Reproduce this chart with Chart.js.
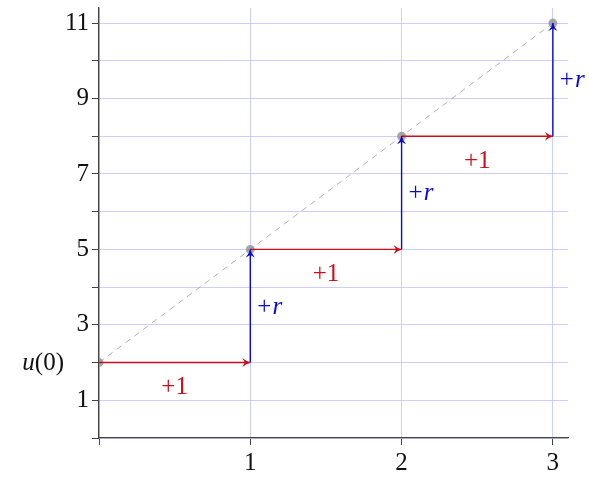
<!DOCTYPE html>
<html>
<head>
<meta charset="utf-8">
<script src="https://cdn.jsdelivr.net/npm/chart.js@4.4.1/dist/chart.umd.min.js"></script>
<style>
  body { margin: 0; background: #fff; }
</style>
</head>
<body>
<canvas id="steps-chart" width="589" height="477"></canvas>
<script>
var steps = [0, 1, 2, 3];
var values = [2, 5, 8, 11];
var labeledY = [1, 3, 5, 7, 9, 11];
var stepText = "+1";
var riseText = "r";
var startText = "u";

var red = "rgb(200, 16, 28)";
var blue = "rgb(10, 10, 205)";
var serif = "'Liberation Serif', 'DejaVu Serif', serif";
var fs = 25;

var datasets = [];
// dashed diagonal + grey dots
datasets.push({
  data: steps.map(function (s, i) { return { x: s, y: values[i] }; }),
  borderColor: "rgba(160,160,160,0.9)",
  borderWidth: 0.9,
  borderDash: [6, 5],
  pointRadius: 4.5,
  pointBackgroundColor: "rgba(150,150,150,0.85)",
  pointBorderWidth: 0,
  order: 3
});
for (var i = 0; i < steps.length - 1; i++) {
  datasets.push({
    data: [{ x: steps[i], y: values[i] }, { x: steps[i + 1], y: values[i] }],
    borderColor: red, borderWidth: 1.4, pointRadius: 0, order: 1
  });
  datasets.push({
    data: [{ x: steps[i + 1], y: values[i] }, { x: steps[i + 1], y: values[i + 1] }],
    borderColor: blue, borderWidth: 1.4, pointRadius: 0, order: 1
  });
}

function arrowHead(ctx, x, y, dx, dy, color) {
  var ang = Math.atan2(dy, dx);
  ctx.save();
  ctx.translate(x, y);
  ctx.rotate(ang);
  ctx.fillStyle = color;
  ctx.beginPath();
  ctx.moveTo(0.5, 0);
  ctx.quadraticCurveTo(-4, -1, -8, -4.5);
  ctx.lineTo(-5.5, 0);
  ctx.lineTo(-8, 4.5);
  ctx.quadraticCurveTo(-4, 1, 0.5, 0);
  ctx.fill();
  ctx.restore();
}

var decor = {
  id: "decor",
  afterDraw: function (chart) {
    var ctx = chart.ctx;
    var xs = chart.scales.x, ys = chart.scales.y;
    ctx.save();
    ctx.textBaseline = "middle";
    for (var i = 0; i < steps.length - 1; i++) {
      var x0 = xs.getPixelForValue(steps[i]);
      var x1 = xs.getPixelForValue(steps[i + 1]);
      var y0 = ys.getPixelForValue(values[i]);
      var y1 = ys.getPixelForValue(values[i + 1]);
      arrowHead(ctx, x1, y0, 1, 0, red);
      arrowHead(ctx, x1, y1, 0, -1, blue);
      // +1 label
      ctx.font = fs + "px " + serif;
      ctx.fillStyle = red;
      ctx.textAlign = "center";
      ctx.fillText(stepText, (x0 + x1) / 2, y0 + 25);
      // +r label
      ctx.fillStyle = blue;
      ctx.textAlign = "left";
      ctx.font = fs + "px " + serif;
      ctx.fillText("+", x1 + 7, (y0 + y1) / 2 + 1);
      var w = ctx.measureText("+").width;
      ctx.font = "italic " + fs + "px " + serif;
      ctx.fillText(riseText, x1 + 8 + w, (y0 + y1) / 2 + 1);
    }
    // u(0) label
    var yu = ys.getPixelForValue(values[0]);
    ctx.fillStyle = "#111";
    ctx.textAlign = "right";
    ctx.font = fs + "px " + serif;
    ctx.fillText("(0)", 64, yu + 1);
    var w0 = ctx.measureText("(0)").width;
    ctx.font = "italic " + fs + "px " + serif;
    ctx.fillText(startText, 64 - w0, yu + 1);
    ctx.restore();
  }
};

new Chart("steps-chart", {
  type: "line",
  data: { datasets: datasets },
  plugins: [decor],
  options: {
    responsive: false,
    animation: false,
    layout: { padding: { left: 0, right: 21, top: 8, bottom: 0 } },
    plugins: { legend: { display: false }, tooltip: { enabled: false } },
    scales: {
      x: {
        type: "linear",
        min: 0,
        max: 3.1,
        afterFit: function (s) { s.height = 39; s.paddingRight = 0; s.paddingLeft = 0; },
        ticks: {
          stepSize: 1,
          includeBounds: false,
          padding: 3,
          color: "#111",
          font: { family: serif, size: fs },
          callback: function (v) { return v === 0 ? "" : String(v); }
        },
        grid: {
          color: "rgba(200,200,255,0.9)",
          tickColor: "#444",
          tickLength: 7,
          lineWidth: 1
        },
        border: { color: "#444", width: 1.3 }
      },
      y: {
        type: "linear",
        min: 0,
        max: 11.4,
        afterFit: function (s) { s.width = 99; s.paddingTop = 0; s.paddingBottom = 0; },
        ticks: {
          stepSize: 1,
          includeBounds: false,
          padding: 3,
          color: "#111",
          font: { family: serif, size: fs },
          callback: function (v) { return labeledY.indexOf(v) >= 0 ? String(v) : ""; }
        },
        grid: {
          color: "rgba(200,200,255,0.9)",
          tickColor: "#444",
          tickLength: 7,
          lineWidth: 1
        },
        border: { color: "#444", width: 1.3 }
      }
    }
  }
});
</script>
</body>
</html>
